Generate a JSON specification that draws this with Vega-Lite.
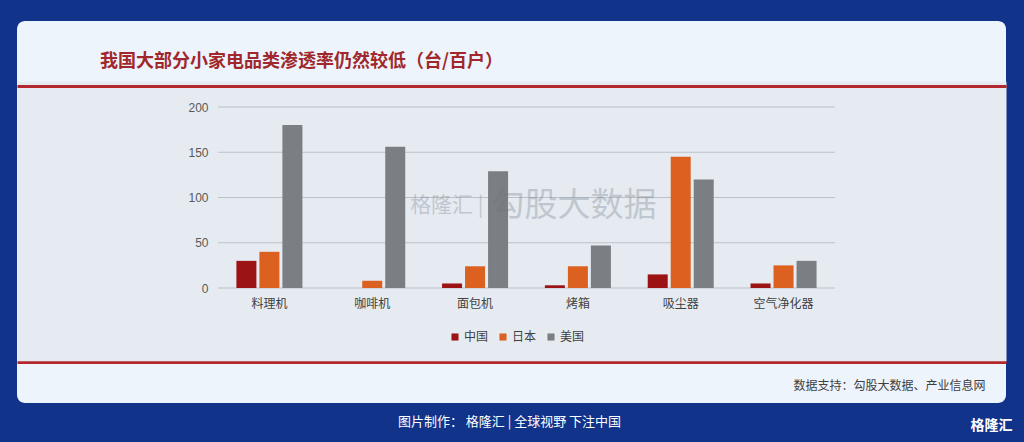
{
  "$schema": "https://vega.github.io/schema/vega-lite/v6.json",
  "width": 989,
  "height": 382,
  "autosize": "none",
  "padding": {"left": 17, "top": 21, "right": 18, "bottom": 39},
  "background": "#12338a",
  "view": {"fill": "#eef4fb", "stroke": null, "cornerRadius": 8},
  "config": {
    "view": {"fill": "#eef4fb", "stroke": null, "cornerRadius": 8},
    "font": "Noto Sans CJK SC",
    "axis": {"labelFont": "Noto Sans CJK SC", "titleFont": "Noto Sans CJK SC"}
  },
  "title": {
    "text": "我国大部分小家电品类渗透率仍然较低（台/百户）",
    "anchor": "start",
    "frame": "group",
    "dx": 83,
    "offset": -50,
    "fontSize": 18,
    "fontWeight": "bold",
    "color": "#a0282c",
    "font": "Noto Sans CJK SC"
  },
  "datasets": {
    "main": [
      {"品类": "料理机", "国家": "中国", "值": 30},
      {"品类": "料理机", "国家": "日本", "值": 40},
      {"品类": "料理机", "国家": "美国", "值": 180},
      {"品类": "咖啡机", "国家": "中国", "值": 0},
      {"品类": "咖啡机", "国家": "日本", "值": 8},
      {"品类": "咖啡机", "国家": "美国", "值": 156},
      {"品类": "面包机", "国家": "中国", "值": 5},
      {"品类": "面包机", "国家": "日本", "值": 24},
      {"品类": "面包机", "国家": "美国", "值": 129},
      {"品类": "烤箱", "国家": "中国", "值": 3},
      {"品类": "烤箱", "国家": "日本", "值": 24},
      {"品类": "烤箱", "国家": "美国", "值": 47},
      {"品类": "吸尘器", "国家": "中国", "值": 15},
      {"品类": "吸尘器", "国家": "日本", "值": 145},
      {"品类": "吸尘器", "国家": "美国", "值": 120},
      {"品类": "空气净化器", "国家": "中国", "值": 5},
      {"品类": "空气净化器", "国家": "日本", "值": 25},
      {"品类": "空气净化器", "国家": "美国", "值": 30}
    ],
    "grid": [{"v": 0}, {"v": 50}, {"v": 100}, {"v": 150}, {"v": 200}]
  },
  "layer": [
    {
      "data": {"name": "grid"},
      "mark": {"type": "rule", "color": "#bcc1c8", "strokeWidth": 1.2},
      "encoding": {
        "x": {
          "datum": "料理机",
          "type": "nominal",
          "bandPosition": 0,
          "scale": {"domain": ["", "料理机", "咖啡机", "面包机", "烤箱", "吸尘器", "空气净化器", " "], "paddingInner": 0, "paddingOuter": 0.809, "align": 0.59},
          "axis": null
        },
        "x2": {"datum": "空气净化器", "bandPosition": 1},
        "y": {
          "field": "v",
          "type": "quantitative",
          "scale": {"domain": [-127.07, 295.03], "nice": false, "zero": false},
          "axis": {
            "orient": "right",
            "values": [74.3, 223.2, -81.77],
            "labels": false,
            "ticks": false,
            "domain": false,
            "grid": true,
            "gridColor": {"condition": {"test": "datum.value > 200 || datum.value < 0", "value": "#b3282d"}, "value": "#e6ebf2"},
            "gridWidth": {"condition": {"test": "datum.value > 200 || datum.value < 0", "value": 3}, "value": 279.5},
            "gridOpacity": 1,
            "title": "数据支持：勾股大数据、产业信息网",
            "titleAngle": 0,
            "titleX": -21,
            "titleY": 364,
            "titleAlign": "right",
            "titleBaseline": "middle",
            "titleFontSize": 12,
            "titleFontWeight": "normal",
            "titleColor": "#404040"
          }
        }
      }
    },
    {
      "data": {"name": "main"},
      "mark": {"type": "bar"},
      "encoding": {
        "x": {
          "field": "品类",
          "type": "nominal",
          "scale": {"domain": ["", "料理机", "咖啡机", "面包机", "烤箱", "吸尘器", "空气净化器", " "], "paddingInner": 0, "paddingOuter": 0.809, "align": 0.59},
          "axis": {
            "orient": "bottom",
            "offset": -115,
            "domain": false,
            "ticks": false,
            "tickSize": 0,
            "labelAngle": 0,
            "labelPadding": 10,
            "labelFontSize": 12,
            "labelColor": "#404040",
            "title": "格隆汇",
            "titleX": 995,
            "titleY": 137,
            "titleAlign": "right",
            "titleBaseline": "middle",
            "titleColor": "#ffffff",
            "titleFontSize": 14,
            "titleFontWeight": "bold"
          }
        },
        "xOffset": {"field": "国家", "type": "nominal", "sort": ["中国", "日本", "美国"], "scale": {"paddingInner": 0.13, "paddingOuter": 0.8}},
        "y": {
          "field": "值",
          "type": "quantitative",
          "scale": {"domain": [-127.07, 295.03], "nice": false, "zero": false},
          "axis": {
            "orient": "left",
            "offset": -201,
            "values": [0, 50, 100, 150, 200],
            "grid": false,
            "domain": false,
            "ticks": false,
            "tickSize": 0,
            "labelPadding": 10,
            "labelFont": "Liberation Sans",
            "labelFontSize": 12,
            "labelColor": "#595959",
            "title": "图片制作：  格隆汇  |  全球视野 下注中国",
            "titleAngle": 0,
            "titleX": 291,
            "titleY": 400,
            "titleAlign": "center",
            "titleBaseline": "middle",
            "titleColor": "#ffffff",
            "titleFontSize": 13,
            "titleFontWeight": "normal"
          }
        },
        "y2": {"datum": 0},
        "color": {
          "field": "国家",
          "type": "nominal",
          "scale": {"domain": ["中国", "日本", "美国"], "range": ["#9c1313", "#dc6020", "#7b7f83"]},
          "legend": {
            "orient": "none",
            "legendX": 432,
            "legendY": 310,
            "direction": "horizontal",
            "title": null,
            "symbolType": "square",
            "symbolSize": 50,
            "symbolStrokeWidth": 0,
            "labelFontSize": 12,
            "labelColor": "#404040",
            "labelFont": "Noto Sans CJK SC",
            "columnPadding": 8,
            "labelOffset": 3,
            "padding": 0
          }
        }
      }
    },
    {
      "data": {"values": [{"t": "勾股大数据"}]},
      "mark": {"type": "text", "align": "left", "baseline": "middle", "dx": -20, "dy": -6, "fontSize": 33, "color": "#6b737d", "opacity": 0.3},
      "encoding": {"text": {"field": "t"}}
    },
    {
      "data": {"values": [{"t": "格隆汇 |"}]},
      "mark": {"type": "text", "align": "right", "baseline": "middle", "dx": -28, "dy": -6, "fontSize": 21, "color": "#6b737d", "opacity": 0.3},
      "encoding": {"text": {"field": "t"}}
    }
  ],
  "resolve": {"axis": {"x": "independent", "y": "independent"}}
}
